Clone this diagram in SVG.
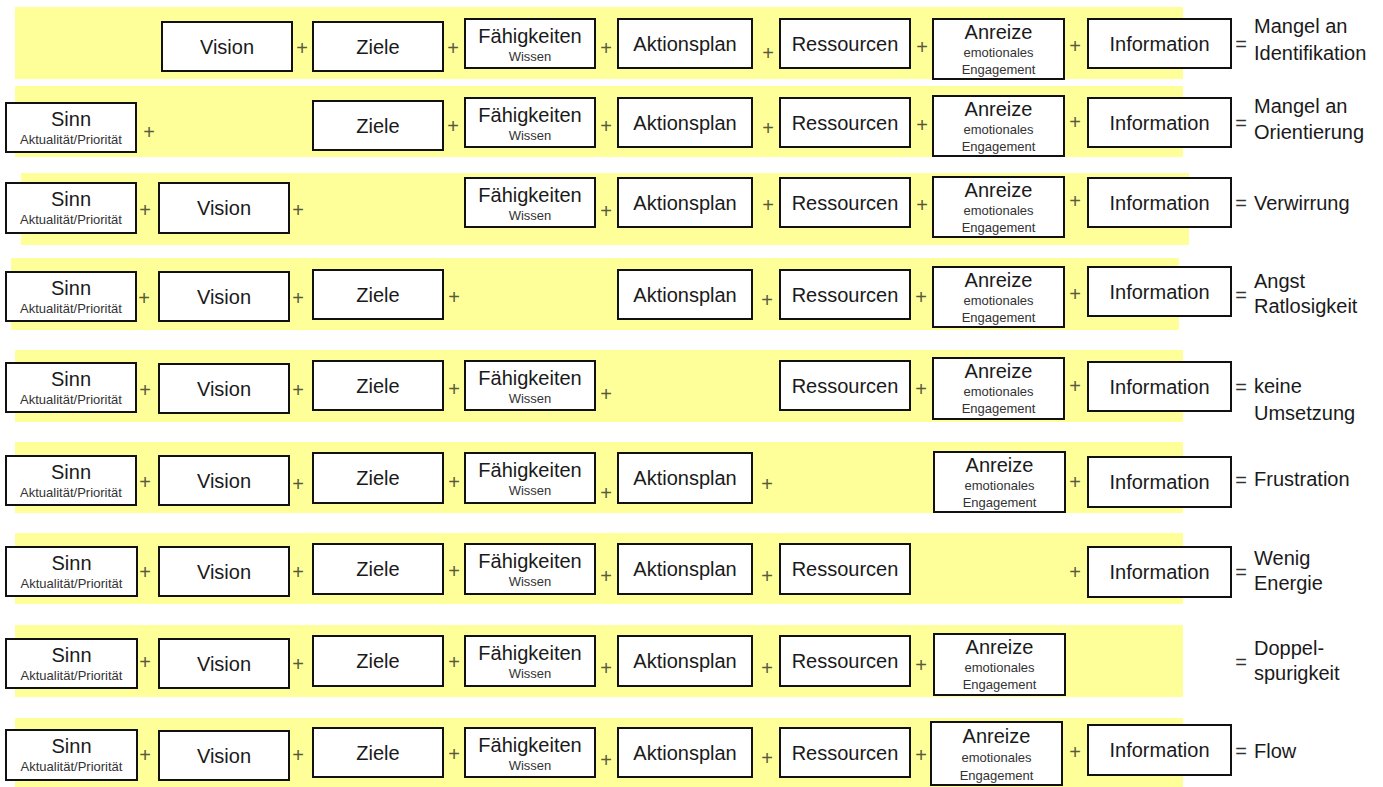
<svg xmlns="http://www.w3.org/2000/svg" width="1383" height="787" viewBox="0 0 1383 787">
<style>
.bg{fill:#ffffff}
.band{fill:#FFFF99}
.box{fill:#ffffff;stroke:#111111;stroke-width:2}
text{font-family:"Liberation Sans",Arial,sans-serif}
.t{font-size:20px;fill:#1a1a1a;text-anchor:middle}
.s{font-size:13px;fill:#333333;text-anchor:middle}
.p{font-size:20px;fill:#5a5a40;text-anchor:middle}
.e{font-size:20px;fill:#333333;text-anchor:middle}
.r{font-size:20px;fill:#1a1a1a}
</style>
<rect class="bg" x="0" y="0" width="1383" height="787"/>
<g id="bands">
<rect class="band" x="15" y="7" width="1168" height="72"/>
<rect class="band" x="15" y="86" width="1168" height="71"/>
<rect class="band" x="21" y="173" width="1168" height="72"/>
<rect class="band" x="11" y="258" width="1168" height="72"/>
<rect class="band" x="15" y="350" width="1168" height="72"/>
<rect class="band" x="15" y="442" width="1168" height="71"/>
<rect class="band" x="15" y="533" width="1168" height="71"/>
<rect class="band" x="15" y="625" width="1168" height="72"/>
<rect class="band" x="15" y="718" width="1168" height="69"/>
</g>

<!-- Row 1 -->
<g id="r1-vision"><rect class="box" x="162" y="22" width="130" height="49"/><text class="t" x="227" y="53.5">Vision</text></g>
<g id="r1-ziele"><rect class="box" x="313" y="22" width="130" height="49"/><text class="t" x="378" y="53.5">Ziele</text></g>
<g id="r1-faehigkeiten"><rect class="box" x="465" y="19" width="130" height="49"/><text class="t" x="530" y="42.5">Fähigkeiten</text><text class="s" x="530" y="61">Wissen</text></g>
<g id="r1-aktionsplan"><rect class="box" x="618" y="19" width="134" height="49"/><text class="t" x="685" y="50.5">Aktionsplan</text></g>
<g id="r1-ressourcen"><rect class="box" x="780" y="19" width="130" height="49"/><text class="t" x="845" y="50.5">Ressourcen</text></g>
<g id="r1-anreize"><rect class="box" x="933" y="19" width="131" height="60"/><text class="t" x="998.5" y="39">Anreize</text><text class="s" x="998.5" y="57">emotionales</text><text class="s" x="998.5" y="74">Engagement</text></g>
<g id="r1-information"><rect class="box" x="1088" y="19" width="143" height="49"/><text class="t" x="1159.5" y="50.5">Information</text></g>
<g id="r1-result"><text class="r" x="1254" y="33">Mangel an</text><text class="r" x="1254" y="60">Identifikation</text></g>

<!-- Row 2 -->
<g id="r2-sinn"><rect class="box" x="6" y="103" width="130" height="49"/><text class="t" x="71" y="126">Sinn</text><text class="s" x="71" y="144">Aktualität/Priorität</text></g>
<g id="r2-ziele"><rect class="box" x="313" y="101" width="130" height="49"/><text class="t" x="378" y="132.5">Ziele</text></g>
<g id="r2-faehigkeiten"><rect class="box" x="465" y="98" width="130" height="49"/><text class="t" x="530" y="121.5">Fähigkeiten</text><text class="s" x="530" y="140">Wissen</text></g>
<g id="r2-aktionsplan"><rect class="box" x="618" y="98" width="134" height="49"/><text class="t" x="685" y="129.5">Aktionsplan</text></g>
<g id="r2-ressourcen"><rect class="box" x="780" y="98" width="130" height="49"/><text class="t" x="845" y="129.5">Ressourcen</text></g>
<g id="r2-anreize"><rect class="box" x="933" y="96" width="131" height="60"/><text class="t" x="998.5" y="116">Anreize</text><text class="s" x="998.5" y="134">emotionales</text><text class="s" x="998.5" y="151">Engagement</text></g>
<g id="r2-information"><rect class="box" x="1088" y="98" width="143" height="49"/><text class="t" x="1159.5" y="129.5">Information</text></g>
<g id="r2-result"><text class="r" x="1254" y="113">Mangel an</text><text class="r" x="1254" y="139">Orientierung</text></g>

<!-- Row 3 -->
<g id="r3-sinn"><rect class="box" x="6" y="183" width="130" height="50"/><text class="t" x="71" y="206">Sinn</text><text class="s" x="71" y="224">Aktualität/Priorität</text></g>
<g id="r3-vision"><rect class="box" x="159" y="183" width="130" height="50"/><text class="t" x="224" y="215">Vision</text></g>
<g id="r3-faehigkeiten"><rect class="box" x="465" y="178" width="130" height="49"/><text class="t" x="530" y="201.5">Fähigkeiten</text><text class="s" x="530" y="220">Wissen</text></g>
<g id="r3-aktionsplan"><rect class="box" x="618" y="178" width="134" height="49"/><text class="t" x="685" y="209.5">Aktionsplan</text></g>
<g id="r3-ressourcen"><rect class="box" x="780" y="178" width="130" height="49"/><text class="t" x="845" y="209.5">Ressourcen</text></g>
<g id="r3-anreize"><rect class="box" x="933" y="177" width="131" height="60"/><text class="t" x="998.5" y="197">Anreize</text><text class="s" x="998.5" y="215">emotionales</text><text class="s" x="998.5" y="232">Engagement</text></g>
<g id="r3-information"><rect class="box" x="1088" y="178" width="143" height="49"/><text class="t" x="1159.5" y="209.5">Information</text></g>
<g id="r3-result"><text class="r" x="1254" y="210">Verwirrung</text></g>

<!-- Row 4 -->
<g id="r4-sinn"><rect class="box" x="6" y="272" width="130" height="49"/><text class="t" x="71" y="295">Sinn</text><text class="s" x="71" y="313">Aktualität/Priorität</text></g>
<g id="r4-vision"><rect class="box" x="159" y="272" width="130" height="49"/><text class="t" x="224" y="303.5">Vision</text></g>
<g id="r4-ziele"><rect class="box" x="313" y="270" width="130" height="49"/><text class="t" x="378" y="301.5">Ziele</text></g>
<g id="r4-aktionsplan"><rect class="box" x="618" y="270" width="134" height="49"/><text class="t" x="685" y="301.5">Aktionsplan</text></g>
<g id="r4-ressourcen"><rect class="box" x="780" y="270" width="130" height="49"/><text class="t" x="845" y="301.5">Ressourcen</text></g>
<g id="r4-anreize"><rect class="box" x="933" y="267" width="131" height="60"/><text class="t" x="998.5" y="287">Anreize</text><text class="s" x="998.5" y="305">emotionales</text><text class="s" x="998.5" y="322">Engagement</text></g>
<g id="r4-information"><rect class="box" x="1088" y="267" width="143" height="49"/><text class="t" x="1159.5" y="298.5">Information</text></g>
<g id="r4-result"><text class="r" x="1254" y="288">Angst</text><text class="r" x="1254" y="313">Ratlosigkeit</text></g>

<!-- Row 5 -->
<g id="r5-sinn"><rect class="box" x="6" y="363" width="130" height="49"/><text class="t" x="71" y="386">Sinn</text><text class="s" x="71" y="404">Aktualität/Priorität</text></g>
<g id="r5-vision"><rect class="box" x="159" y="364" width="130" height="49"/><text class="t" x="224" y="395.5">Vision</text></g>
<g id="r5-ziele"><rect class="box" x="313" y="361" width="130" height="49"/><text class="t" x="378" y="392.5">Ziele</text></g>
<g id="r5-faehigkeiten"><rect class="box" x="465" y="361" width="130" height="49"/><text class="t" x="530" y="384.5">Fähigkeiten</text><text class="s" x="530" y="403">Wissen</text></g>
<g id="r5-ressourcen"><rect class="box" x="780" y="361" width="130" height="49"/><text class="t" x="845" y="392.5">Ressourcen</text></g>
<g id="r5-anreize"><rect class="box" x="933" y="358" width="131" height="61"/><text class="t" x="998.5" y="378">Anreize</text><text class="s" x="998.5" y="396">emotionales</text><text class="s" x="998.5" y="413">Engagement</text></g>
<g id="r5-information"><rect class="box" x="1088" y="362" width="143" height="49"/><text class="t" x="1159.5" y="393.5">Information</text></g>
<g id="r5-result"><text class="r" x="1254" y="393">keine</text><text class="r" x="1254" y="420">Umsetzung</text></g>

<!-- Row 6 -->
<g id="r6-sinn"><rect class="box" x="6" y="456" width="130" height="49"/><text class="t" x="71" y="479">Sinn</text><text class="s" x="71" y="497">Aktualität/Priorität</text></g>
<g id="r6-vision"><rect class="box" x="159" y="456" width="130" height="49"/><text class="t" x="224" y="487.5">Vision</text></g>
<g id="r6-ziele"><rect class="box" x="313" y="453" width="130" height="50"/><text class="t" x="378" y="485">Ziele</text></g>
<g id="r6-faehigkeiten"><rect class="box" x="465" y="453" width="130" height="50"/><text class="t" x="530" y="476.5">Fähigkeiten</text><text class="s" x="530" y="495">Wissen</text></g>
<g id="r6-aktionsplan"><rect class="box" x="618" y="453" width="134" height="50"/><text class="t" x="685" y="485">Aktionsplan</text></g>
<g id="r6-anreize"><rect class="box" x="934" y="452" width="131" height="60"/><text class="t" x="999.5" y="472">Anreize</text><text class="s" x="999.5" y="490">emotionales</text><text class="s" x="999.5" y="507">Engagement</text></g>
<g id="r6-information"><rect class="box" x="1088" y="457" width="143" height="50"/><text class="t" x="1159.5" y="489">Information</text></g>
<g id="r6-result"><text class="r" x="1254" y="486">Frustration</text></g>

<!-- Row 7 -->
<g id="r7-sinn"><rect class="box" x="6" y="547" width="131" height="49"/><text class="t" x="71.5" y="570">Sinn</text><text class="s" x="71.5" y="588">Aktualität/Priorität</text></g>
<g id="r7-vision"><rect class="box" x="159" y="547" width="130" height="49"/><text class="t" x="224" y="578.5">Vision</text></g>
<g id="r7-ziele"><rect class="box" x="313" y="544" width="130" height="50"/><text class="t" x="378" y="576">Ziele</text></g>
<g id="r7-faehigkeiten"><rect class="box" x="465" y="544" width="130" height="50"/><text class="t" x="530" y="567.5">Fähigkeiten</text><text class="s" x="530" y="586">Wissen</text></g>
<g id="r7-aktionsplan"><rect class="box" x="618" y="544" width="134" height="50"/><text class="t" x="685" y="576">Aktionsplan</text></g>
<g id="r7-ressourcen"><rect class="box" x="780" y="544" width="130" height="50"/><text class="t" x="845" y="576">Ressourcen</text></g>
<g id="r7-information"><rect class="box" x="1088" y="547" width="143" height="50"/><text class="t" x="1159.5" y="579">Information</text></g>
<g id="r7-result"><text class="r" x="1254" y="565">Wenig</text><text class="r" x="1254" y="590">Energie</text></g>

<!-- Row 8 -->
<g id="r8-sinn"><rect class="box" x="6" y="639" width="131" height="49"/><text class="t" x="71.5" y="662">Sinn</text><text class="s" x="71.5" y="680">Aktualität/Priorität</text></g>
<g id="r8-vision"><rect class="box" x="159" y="639" width="130" height="49"/><text class="t" x="224" y="670.5">Vision</text></g>
<g id="r8-ziele"><rect class="box" x="313" y="636" width="130" height="50"/><text class="t" x="378" y="668">Ziele</text></g>
<g id="r8-faehigkeiten"><rect class="box" x="465" y="636" width="130" height="50"/><text class="t" x="530" y="659.5">Fähigkeiten</text><text class="s" x="530" y="678">Wissen</text></g>
<g id="r8-aktionsplan"><rect class="box" x="618" y="636" width="134" height="50"/><text class="t" x="685" y="668">Aktionsplan</text></g>
<g id="r8-ressourcen"><rect class="box" x="780" y="636" width="130" height="50"/><text class="t" x="845" y="668">Ressourcen</text></g>
<g id="r8-anreize"><rect class="box" x="934" y="634" width="131" height="61"/><text class="t" x="999.5" y="654">Anreize</text><text class="s" x="999.5" y="672">emotionales</text><text class="s" x="999.5" y="689">Engagement</text></g>
<g id="r8-result"><text class="r" x="1254" y="655">Doppel-</text><text class="r" x="1254" y="680">spurigkeit</text></g>

<!-- Row 9 -->
<g id="r9-sinn"><rect class="box" x="6" y="730" width="131" height="50"/><text class="t" x="71.5" y="753">Sinn</text><text class="s" x="71.5" y="771">Aktualität/Priorität</text></g>
<g id="r9-vision"><rect class="box" x="159" y="731" width="130" height="49"/><text class="t" x="224" y="762.5">Vision</text></g>
<g id="r9-ziele"><rect class="box" x="313" y="728" width="130" height="49"/><text class="t" x="378" y="759.5">Ziele</text></g>
<g id="r9-faehigkeiten"><rect class="box" x="465" y="728" width="130" height="49"/><text class="t" x="530" y="751.5">Fähigkeiten</text><text class="s" x="530" y="770">Wissen</text></g>
<g id="r9-aktionsplan"><rect class="box" x="618" y="728" width="134" height="49"/><text class="t" x="685" y="759.5">Aktionsplan</text></g>
<g id="r9-ressourcen"><rect class="box" x="780" y="728" width="130" height="49"/><text class="t" x="845" y="759.5">Ressourcen</text></g>
<g id="r9-anreize"><rect class="box" x="931" y="722" width="131" height="63"/><text class="t" x="996.5" y="743">Anreize</text><text class="s" x="996.5" y="762">emotionales</text><text class="s" x="996.5" y="780">Engagement</text></g>
<g id="r9-information"><rect class="box" x="1088" y="725" width="143" height="50"/><text class="t" x="1159.5" y="757">Information</text></g>
<g id="r9-result"><text class="r" x="1254" y="758">Flow</text></g>

<g id="connectors">
<!-- row 1 -->
<text class="p" x="302" y="55">+</text><text class="p" x="453" y="55">+</text><text class="p" x="606" y="55">+</text><text class="p" x="768" y="60">+</text><text class="p" x="922" y="54">+</text><text class="p" x="1075" y="53">+</text><text class="e" x="1241" y="51">=</text>
<!-- row 2 -->
<text class="p" x="149" y="139">+</text><text class="p" x="453" y="133">+</text><text class="p" x="606" y="133">+</text><text class="p" x="768" y="135">+</text><text class="p" x="922" y="132">+</text><text class="p" x="1075" y="129">+</text><text class="e" x="1241" y="130">=</text>
<!-- row 3 -->
<text class="p" x="145" y="217">+</text><text class="p" x="298" y="217">+</text><text class="p" x="606" y="218">+</text><text class="p" x="768" y="212">+</text><text class="p" x="922" y="212">+</text><text class="p" x="1075" y="208">+</text><text class="e" x="1241" y="210">=</text>
<!-- row 4 -->
<text class="p" x="144" y="305">+</text><text class="p" x="298" y="305">+</text><text class="p" x="454" y="304">+</text><text class="p" x="767" y="307">+</text><text class="p" x="921" y="304">+</text><text class="p" x="1075" y="301">+</text><text class="e" x="1241" y="302">=</text>
<!-- row 5 -->
<text class="p" x="145" y="397">+</text><text class="p" x="298" y="397">+</text><text class="p" x="454" y="396">+</text><text class="p" x="606" y="401">+</text><text class="p" x="921" y="396">+</text><text class="p" x="1075" y="393">+</text><text class="e" x="1241" y="394">=</text>
<!-- row 6 -->
<text class="p" x="145" y="489">+</text><text class="p" x="298" y="491">+</text><text class="p" x="454" y="489">+</text><text class="p" x="606" y="500">+</text><text class="p" x="767" y="491">+</text><text class="p" x="1075" y="489">+</text><text class="e" x="1241" y="487">=</text>
<!-- row 7 -->
<text class="p" x="145" y="579">+</text><text class="p" x="298" y="579">+</text><text class="p" x="454" y="578">+</text><text class="p" x="606" y="583">+</text><text class="p" x="767" y="583">+</text><text class="p" x="1075" y="579">+</text><text class="e" x="1241" y="579">=</text>
<!-- row 8 -->
<text class="p" x="145" y="669">+</text><text class="p" x="298" y="671">+</text><text class="p" x="454" y="669">+</text><text class="p" x="606" y="675">+</text><text class="p" x="767" y="675">+</text><text class="p" x="921" y="672">+</text><text class="e" x="1241" y="669">=</text>
<!-- row 9 -->
<text class="p" x="145" y="762">+</text><text class="p" x="298" y="762">+</text><text class="p" x="454" y="761">+</text><text class="p" x="606" y="767">+</text><text class="p" x="767" y="765">+</text><text class="p" x="921" y="762">+</text><text class="p" x="1075" y="759">+</text><text class="e" x="1241" y="758">=</text>
</g>
</svg>
